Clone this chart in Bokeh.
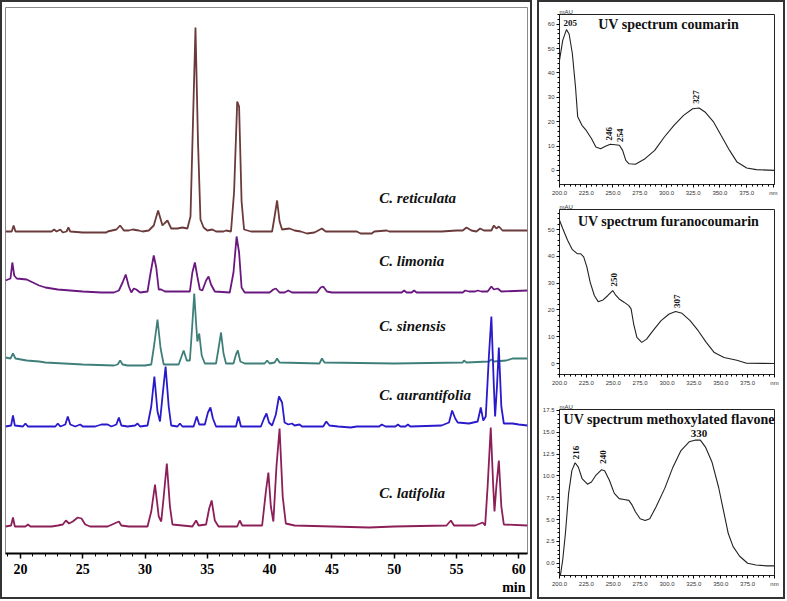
import math
from bokeh.plotting import figure
from bokeh.layouts import row, column
from bokeh.models import Range1d, Label, FixedTicker, NumeralTickFormatter, Title
from bokeh.embed import file_html
from bokeh.resources import INLINE

# ---------------- chromatograms (time in min, signal above own baseline) ----------------
reticulata_t = [18.8, 19.3, 19.45, 19.6, 22.5, 22.7, 22.9, 23.2, 23.4, 23.7, 23.85, 24.0, 25.0, 26.9, 27.0, 27.7, 28.0, 28.3, 28.7, 29.0, 29.5, 29.8, 30.3, 30.7, 31.05, 31.4, 31.55, 31.8, 32.1, 32.6, 33.0, 33.4, 33.65, 33.85, 34.05, 34.25, 34.45, 34.7, 35.0, 35.4, 35.7, 36.3, 36.5, 36.9, 37.15, 37.4, 37.55, 37.75, 37.95, 38.5, 40.2, 40.4, 40.6, 40.8, 41.0, 41.6, 42.0, 42.5, 43.0, 43.6, 43.9, 44.2, 44.5, 47.0, 47.3, 48.2, 48.4, 49.4, 49.6, 53.8, 55.0, 55.5, 55.8, 56.2, 56.6, 56.9, 57.2, 57.8, 58.0, 58.2, 58.4, 58.7, 60.7]
reticulata_v = [0, 0, 6, 0, 0, 2, 0, 2, -1, 0, 4, 0, -1, -1, 0, 2, 6, 1, 1, 2, 1, 0, 1, 6, 21, 6, 8, 11, 3, 3, 4, 3, 15, 110, 204, 90, 12, 4, 1, 2, 0, 0, 1, 0, 40, 130, 125, 30, 2, 0, 0, 15, 31, 10, 2, 3, 1, 0, -2, -1, 1, 3, 0, 0, -2, -2, 0, 1, 0, 0, 1, 1, 4, 1, 0, 3, 1, 1, 6, 3, 5, 1, 1]

limonia_t = [18.8, 19.2, 19.35, 19.5, 19.7, 20.5, 21.0, 21.5, 22.0, 23.0, 24.0, 25.0, 26.5, 27.5, 27.9, 28.2, 28.45, 28.7, 28.9, 29.1, 29.3, 29.6, 30.2, 30.45, 30.7, 30.9, 31.1, 31.3, 31.6, 32.5, 33.6, 33.8, 34.0, 34.2, 34.4, 34.6, 34.9, 35.1, 35.3, 35.6, 36.8, 37.1, 37.35, 37.55, 37.75, 38.0, 40.0, 40.3, 40.5, 40.8, 41.2, 41.5, 41.8, 43.8, 44.1, 44.3, 44.6, 45.0, 50.6, 50.8, 51.0, 51.4, 51.6, 51.8, 55.5, 55.7, 56.0, 56.5, 56.7, 57.0, 57.5, 57.8, 58.0, 58.3, 58.6, 60.7]
limonia_v = [12, 14, 30, 17, 14, 13, 10, 7, 5, 3, 2, 1, 0, 0, 2, 10, 18, 6, 0, 4, 3, 0, 1, 20, 37, 25, 3, 3, 1, 1, 1, 20, 30, 16, 3, 2, 12, 16, 8, 1, 0, 20, 56, 40, 5, 0, 0, 3, 4, 0, 0, 2, 0, 0, 5, 6, 1, 0, 0, 2, 0, 0, 2, 0, 0, 2, 1, 1, 2, 1, 1, 6, 3, 4, 1, 2]

sinensis_t = [18.8, 19.2, 19.4, 19.6, 20.5, 21.5, 22.0, 23.5, 25.0, 27.5, 27.8, 28.0, 28.2, 28.6, 30.0, 30.5, 30.75, 31.0, 31.25, 31.5, 32.7, 32.9, 33.1, 33.35, 33.6, 33.8, 33.95, 34.1, 34.2, 34.35, 34.55, 34.8, 35.7, 35.9, 36.1, 36.3, 36.5, 37.1, 37.3, 37.45, 37.65, 38.0, 39.6, 39.8, 40.0, 40.4, 40.6, 40.8, 44.0, 44.2, 44.4, 50.0, 55.5, 55.6, 55.8, 57.6, 57.8, 58.0, 59.0, 59.5, 60.7]
sinensis_v = [6, 5, 10, 5, 3, 2, 1, 0, -1, -2, -1, 3, -1, -2, -2, -1, 20, 44, 15, -1, -1, 6, 13, 3, 3, 40, 70, 40, 22, 30, 8, 0, 0, 15, 31, 10, 0, 0, 9, 13, 2, 0, 0, 3, 0, 1, 5, 1, 0, 5, 1, 0, 1, 3, 1, 2, 4, 2, 3, 5, 5]

aurantifolia_t = [18.8, 19.25, 19.4, 19.55, 20.2, 20.4, 20.6, 22.8, 23.0, 23.2, 23.6, 23.8, 24.0, 24.4, 24.8, 25.0, 26.0, 26.5, 27.0, 27.3, 27.7, 27.9, 28.1, 28.6, 29.2, 29.4, 29.6, 30.2, 30.5, 30.75, 31.0, 31.2, 31.4, 31.65, 31.9, 32.1, 32.6, 32.8, 33.0, 33.9, 34.15, 34.35, 34.8, 35.05, 35.25, 35.45, 35.7, 37.3, 37.5, 37.7, 39.3, 39.55, 39.75, 39.95, 40.2, 40.5, 40.75, 41.0, 41.2, 41.5, 41.8, 42.0, 42.4, 42.6, 44.3, 44.55, 44.8, 45.5, 46.5, 47.0, 48.8, 49.0, 49.3, 50.1, 50.3, 50.5, 50.9, 51.1, 51.3, 53.8, 54.4, 54.65, 54.9, 55.1, 56.0, 56.7, 56.95, 57.15, 57.35, 57.6, 57.8, 58.0, 58.1, 58.25, 58.4, 58.6, 58.8, 59.5, 60.0, 60.7]
aurantifolia_v = [0, 1, 11, 1, 0, 3, 0, 0, 3, 0, 2, 10, 2, 0, 2, 0, 0, 2, 2, 0, 2, 9, 1, 0, 1, 3, 0, 1, 20, 50, 15, 5, 30, 60, 20, 1, 0, 3, 0, 0, 10, 2, 2, 14, 19, 8, 0, 0, 10, 0, 0, 8, 13, 4, 1, 12, 30, 24, 4, 2, 3, 1, 2, 0, 0, 5, 1, 0, -1, 0, 0, 2, 0, 0, 2, 0, 0, 2, 0, 1, 4, 16, 8, 4, 3, 5, 19, 6, 10, 70, 110, 40, 10, 40, 79, 20, 3, 3, 2, 1]

latifolia_t = [18.8, 19.25, 19.4, 19.55, 20.4, 20.6, 20.8, 22.5, 23.0, 23.4, 23.65, 23.9, 24.2, 24.6, 24.9, 25.2, 25.6, 27.0, 27.9, 28.1, 28.7, 30.2, 30.5, 30.8, 31.1, 31.3, 31.5, 31.75, 32.0, 32.2, 33.8, 34.1, 34.3, 34.9, 35.15, 35.35, 35.6, 35.9, 37.4, 37.6, 37.8, 39.4, 39.7, 39.9, 40.1, 40.3, 40.55, 40.8, 41.05, 41.3, 42.0, 45.0, 48.0, 50.0, 54.2, 54.55, 54.8, 56.5, 57.1, 57.3, 57.5, 57.75, 57.95, 58.05, 58.2, 58.4, 58.6, 58.8, 60.7]
latifolia_v = [0, 1, 9, 0, 0, 2, 0, 0, 1, 2, 6, 3, 5, 9, 8, 2, 0, 0, 5, 1, 0, 0, 15, 42, 10, 5, 30, 63, 20, 2, 0, 6, 1, 2, 18, 26, 6, 0, 0, 6, 1, 1, 35, 54, 20, 5, 60, 98, 30, 3, 1, 0, -1, 0, 1, 6, 1, 1, 4, 1, 40, 99, 40, 15, 40, 66, 20, 2, 1]

species = ["C. reticulata", "C. limonia", "C. sinensis", "C. aurantifolia", "C. latifolia"]
x_ticks = [20, 25, 30, 35, 40, 45, 50, 55, 60]

# ---------------- UV spectra (nm, mAU) ----------------
coumarin_nm = [200, 203, 206.5, 209, 212, 215, 217, 221, 225, 230, 234, 238.5, 243, 247.5, 252, 256, 259, 262, 265, 271, 280, 289, 298, 307, 316, 324.5, 330.5, 336, 344, 351, 359, 366, 375, 384, 401]
coumarin_mau = [45.2, 53.4, 57.8, 56, 48, 34, 22, 18.5, 16.4, 13, 9.6, 8.9, 9.9, 10.7, 10.5, 10.3, 8.2, 4.1, 2.7, 2.5, 4.8, 8.2, 13.7, 18.5, 22.6, 25.3, 25.6, 24, 19.9, 14.4, 8.2, 3.4, 1.0, 0.3, 0]

furano_nm = [200, 203, 207.5, 212, 216.5, 219.5, 222.5, 225.5, 228.5, 232.4, 236, 240.5, 245, 249.5, 252.5, 255.5, 260, 264.5, 266.6, 269, 272, 276.5, 281, 287, 294.5, 302, 308, 314, 321.5, 329, 336.5, 344, 353, 365, 374, 400]
furano_mau = [53.5, 50.4, 46, 42.5, 41, 41, 39.8, 36, 30.4, 25.4, 23.1, 23.75, 25.4, 27.25, 25.4, 24.1, 22.9, 21.6, 20.4, 14.75, 9.75, 7.9, 9.1, 12.25, 16, 18.5, 19.4, 18.75, 16, 12.25, 7.9, 4.1, 2.25, 1.25, 0.1, 0]

flavone_nm = [200, 203, 205.5, 208.5, 211.5, 214.5, 217.5, 221, 226, 229.7, 234, 239, 242, 246.4, 251, 255.5, 260, 264.5, 267.6, 270.6, 275, 279.7, 284, 290, 298, 305.5, 313, 320.6, 326.7, 331, 335.8, 341.8, 348, 352.4, 357, 361.5, 367.6, 375, 382.7, 393, 400]
flavone_mau = [-2.1, 0.4, 3.4, 8, 10.6, 11.5, 11, 9.7, 9.05, 9.3, 10.1, 10.7, 10.6, 9.5, 8, 7.4, 7.3, 7.2, 6.65, 5.9, 5.1, 4.9, 5.1, 6.5, 8.6, 11, 12.9, 13.9, 14.1, 14.1, 13.3, 11.6, 8.7, 6.1, 3.4, 1.9, 0.8, 0, -0.2, -0.3, -0.3]

uv_titles = ["UV spectrum coumarin", "UV spectrum furanocoumarin", "UV spectrum methoxylated flavone"]
coumarin_peaks = [205, 246, 254, 327]
furano_peaks = [250, 307]
flavone_peaks = [216, 240, 330]

SERIF = "Liberation Serif"
SANS = "Liberation Sans"
BORDER = {"border": "2px solid #333"}

# ---------------- left panel ----------------
p = figure(width=532, height=599, x_range=Range1d(18.8, 60.7), y_range=Range1d(0, 546),
           output_backend="svg", toolbar_location=None, y_axis_location=None,
           min_border_left=3, min_border_right=7, min_border_top=5, min_border_bottom=48)
p.grid.visible = False
p.outline_line_color = "#8a8a8a"
p.outline_line_width = 1
p.background_fill_color = "white"
p.border_fill_color = "white"
p.styles = BORDER

xa = p.xaxis[0]
xa.ticker = FixedTicker(ticks=x_ticks, minor_ticks=list(range(19, 61)))
xa.axis_line_width = 2
xa.axis_line_color = "black"
xa.major_tick_in = 0
xa.major_tick_out = 5
xa.minor_tick_in = 0
xa.minor_tick_out = 3
xa.major_tick_line_width = 1.5
xa.major_label_text_font = SERIF
xa.major_label_text_font_style = "bold"
xa.major_label_text_font_size = "14px"
xa.major_label_text_color = "black"
xa.major_label_standoff = 5

p.add_layout(Title(text="min", align="right", offset=2, standoff=2, text_font=SERIF,
                   text_font_style="bold", text_font_size="14px", text_color="black"), "below")

bases = [322, 261, 190, 127, 27]
colors = ["#6b3a3a", "#6a1880", "#3f7f7a", "#2a1acb", "#8c1f58"]
traces = [(reticulata_t, reticulata_v), (limonia_t, limonia_v), (sinensis_t, sinensis_v),
          (aurantifolia_t, aurantifolia_v), (latifolia_t, latifolia_v)]
label_y = [356, 293, 228, 159, 61]
for (tt, vv), b, c, name, ly in zip(traces, bases, colors, species, label_y):
    p.line(tt, [b + v for v in vv], line_color=c, line_width=1.8)
    p.add_layout(Label(x=48.8, y=ly, text=name, text_font=SERIF, text_font_style="bold italic",
                       text_font_size="15px", text_color="#111", text_baseline="middle"))

# ---------------- right panels ----------------
def uv_panel(xs, ys, xr, yr, yticks, fmt, title, tsize, tpos, peaks, height, borders):
    f = figure(width=244, height=height, x_range=Range1d(*xr), y_range=Range1d(*yr),
               output_backend="svg", toolbar_location=None, title="mAU",
               min_border_left=borders[0], min_border_right=borders[1],
               min_border_top=borders[2], min_border_bottom=borders[3])
    f.title.align = "left"
    f.title.text_font = SANS
    f.title.text_font_size = "6px"
    f.title.text_font_style = "normal"
    f.title.text_color = "#333"
    f.title.standoff = 0
    f.title.offset = 0
    f.grid.visible = False
    f.outline_line_color = "#222"
    f.outline_line_width = 1
    f.border_fill_color = "white"
    f.line(xs, ys, line_color="#222", line_width=1.1)
    for ax in (f.xaxis[0], f.yaxis[0]):
        ax.axis_line_color = "#222"
        ax.major_tick_in = 0
        ax.major_tick_out = 3
        ax.minor_tick_in = 0
        ax.minor_tick_out = 2
        ax.major_label_text_font = SANS
        ax.major_label_text_font_size = "6px"
        ax.major_label_text_color = "#333"
        ax.major_label_standoff = 2
    f.xaxis[0].ticker = FixedTicker(ticks=[200, 225, 250, 275, 300, 325, 350, 375, 400],
                                    minor_ticks=list(range(200, 401, 5)))
    f.xaxis[0].formatter = NumeralTickFormatter(format="0.0")
    f.xaxis[0].major_label_overrides = {400: "nm"}
    step = yticks[1] - yticks[0]
    f.yaxis[0].ticker = FixedTicker(ticks=yticks,
                                    minor_ticks=[yticks[0] + i * step / 5 - step for i in range(5 * len(yticks) + 10)])
    f.yaxis[0].formatter = NumeralTickFormatter(format=fmt)
    f.add_layout(Label(x=tpos[0], y=tpos[1], text=title, text_font=SERIF, text_font_style="bold",
                       text_font_size=tsize, text_color="#111", text_align="center",
                       text_baseline="middle"))
    for (px, py, txt, rot, size) in peaks:
        if rot:
            f.add_layout(Label(x=px, y=py, text=txt, angle=math.pi / 2, text_font=SERIF,
                               text_font_style="bold", text_font_size=size, text_color="#111",
                               text_align="left", text_baseline="middle"))
        else:
            f.add_layout(Label(x=px, y=py, text=txt, text_font=SERIF,
                               text_font_style="bold", text_font_size=size, text_color="#111",
                               text_align="center", text_baseline="middle"))
    return f

f1 = uv_panel(coumarin_nm, coumarin_mau, (200, 401), (-5.8, 64), [0, 10, 20, 30, 40, 50, 60], "0",
              uv_titles[0], "14px", (302, 60),
              [(210, 60.5, str(coumarin_peaks[0]), False, "9px"),
               (246, 12.3, str(coumarin_peaks[1]), True, "9px"),
               (256.3, 11.6, str(coumarin_peaks[2]), True, "9px"),
               (328, 27.4, str(coumarin_peaks[3]), True, "9px")],
              198, (13, 5, 12, 16))
f2 = uv_panel(furano_nm, furano_mau, (200, 400), (-4.1, 57.5), [0, 10, 20, 30, 40, 50], "0",
              uv_titles[1], "14px", (301.4, 52.9),
              [(250.4, 28.75, str(furano_peaks[0]), True, "9px"),
               (309.5, 20.75, str(furano_peaks[1]), True, "9px")],
              200, (13, 9, 9, 26))
f3 = uv_panel(flavone_nm, flavone_mau, (200, 400), (-1.4, 17.6), [0, 2.5, 5, 7.5, 10, 12.5, 15, 17.5], "0.0",
              uv_titles[2], "14px", (302, 16.5),
              [(215, 11.9, str(flavone_peaks[0]), True, "9px"),
               (240.3, 11.4, str(flavone_peaks[1]), True, "9px"),
               (329.7, 14.8, str(flavone_peaks[2]), False, "11px")],
              197, (17, 7, 9, 22))

right = column(f1, f2, f3, spacing=0, styles=BORDER)
layout = row(p, right, spacing=5)

open("out.html", "w").write(file_html(layout, INLINE))
